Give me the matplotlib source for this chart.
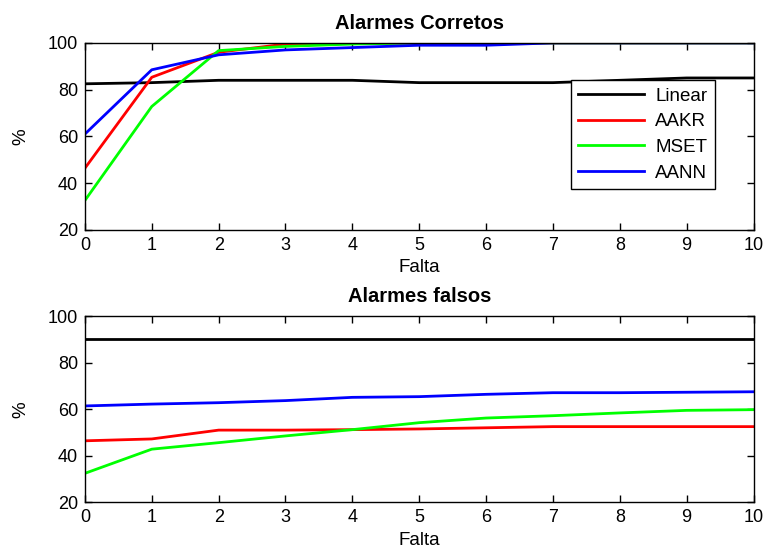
import matplotlib
matplotlib.use("Agg")
import matplotlib.pyplot as plt

plt.rcParams['font.family'] = ['Liberation Sans', 'DejaVu Sans']

falta = [0, 1, 2, 3, 4, 5, 6, 7, 8, 9, 10]
series_names = ["Linear", "AAKR", "MSET", "AANN"]
series_colors = ["black", "red", "#00ff00", "blue"]

# Alarmes Corretos
corr_linear = [82.5, 83, 84, 84, 84, 83, 83, 83, 84, 85, 85]
corr_aakr = [46.4, 85.3, 96, 99.5, 100, 100, 100, 100, 100, 100, 100]
corr_mset = [32.6, 72.8, 96.7, 98.5, 99.5, 100, 100, 100, 100, 100, 100]
corr_aann = [61, 88.5, 94.9, 97, 98, 99, 99, 100, 100, 100, 100]

# Alarmes falsos
fals_linear = [90, 90, 90, 90, 90, 90, 90, 90, 90, 90, 90]
fals_aakr = [46.4, 47.2, 51, 51, 51.2, 51.5, 52, 52.5, 52.5, 52.5, 52.5]
fals_mset = [32.4, 42.8, 45.6, 48.5, 51.2, 54.2, 56.2, 57.2, 58.4, 59.5, 59.8]
fals_aann = [61.4, 62.2, 62.8, 63.7, 65.1, 65.4, 66.4, 67.1, 67.1, 67.3, 67.5]

fig = plt.figure(figsize=(7.65, 5.5), dpi=100)
ax1 = fig.add_axes([0.111, 0.582, 0.874, 0.340])
ax2 = fig.add_axes([0.111, 0.087, 0.874, 0.338])

top_data = [corr_linear, corr_aakr, corr_mset, corr_aann]
bot_data = [fals_linear, fals_aakr, fals_mset, fals_aann]

for ax, data, title in [(ax1, top_data, "Alarmes Corretos"), (ax2, bot_data, "Alarmes falsos")]:
    for name, col, vals in zip(series_names, series_colors, data):
        ax.plot(falta, vals, color=col, lw=2, label=name)
    ax.set_xlim(0, 10)
    ax.set_ylim(20, 100)
    ax.set_xticks(range(0, 11))
    ax.set_yticks([20, 40, 60, 80, 100])
    ax.tick_params(direction='in', top=True, right=True, labelsize=13, length=5, width=1)
    ax.tick_params(axis='x', pad=5)
    ax.tick_params(axis='y', pad=5)
    for s in ax.spines.values():
        s.set_linewidth(1)
    ax.set_xlabel("Falta", fontsize=13.5, labelpad=4)
    ax.set_ylabel("%", fontsize=13.5, labelpad=13)
    ax.set_title(title, fontsize=14.5, fontweight='bold', pad=10)

leg = ax1.legend(loc='upper right', bbox_to_anchor=(0.942, 0.80), borderaxespad=0,
                 fontsize=13.5, fancybox=False, framealpha=1, edgecolor='black',
                 handlelength=3.5, borderpad=0.4, labelspacing=0.45, handletextpad=0.6)
leg.get_frame().set_linewidth(1)

fig.savefig("out.png", dpi=100)
